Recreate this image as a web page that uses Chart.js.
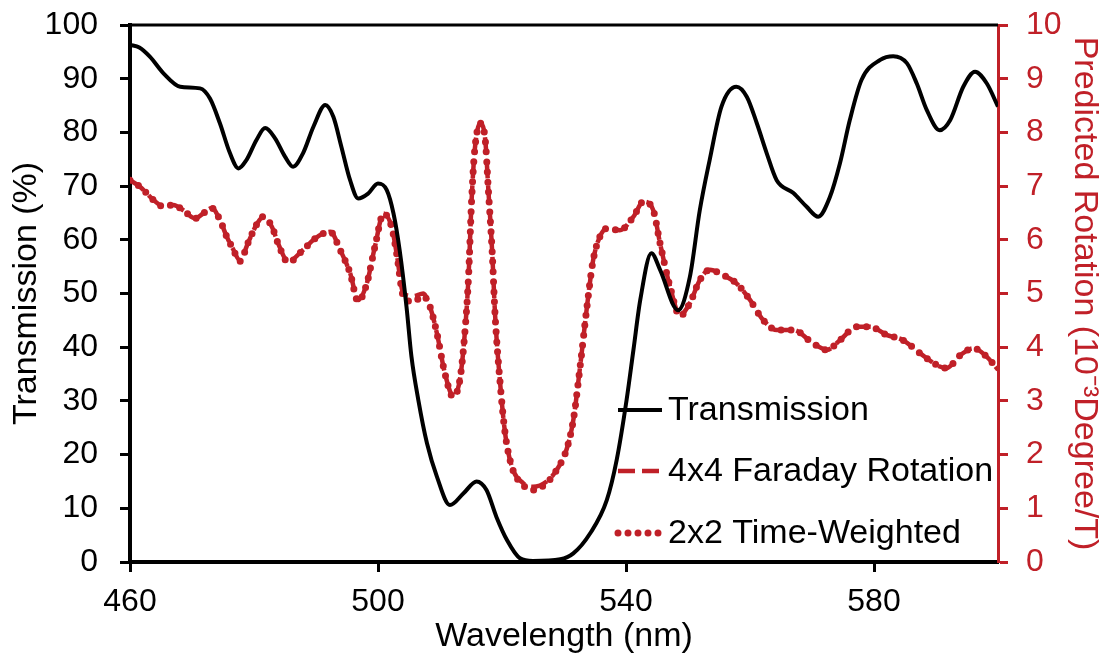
<!DOCTYPE html>
<html>
<head>
<meta charset="utf-8">
<script src="https://cdn.jsdelivr.net/npm/chart.js@4"></script>
<style>
  html, body { margin: 0; padding: 0; background: #fff; }
  #wrap { width: 1107px; height: 669px; }
</style>
</head>
<body>
<div id="wrap"><canvas id="myChart" width="1107" height="669"></canvas></div>
<script>
// wavelength (nm) and transmission (%)
const transWl = [460, 461.5, 463.2, 465.4, 468.1, 471.3, 472.9, 474.5, 476.1, 477.5, 478.8, 480.4, 481.8, 483.4, 485.0, 486.3, 487.9, 489.6, 491.5, 492.8, 494.1, 495.5, 496.8, 498.4, 500.0, 501.4, 502.5, 503.5, 504.6, 505.4, 506.5, 507.9, 509.5, 511.6, 513.8, 515.9, 517.5, 519.1, 520.8, 522.9, 525.0, 529.4, 531.5, 534.2, 536.9, 538.5, 540.1, 541.2, 542.3, 544.1, 545.5, 548.4, 550.3, 551.9, 553.5, 555.4, 557.8, 559.5, 561.1, 562.7, 564.3, 567.0, 569.1, 571.0, 572.9, 574.5, 576.1, 578.0, 581.0, 583.1, 585.3, 586.9, 588.5, 590.6, 592.3, 594.4, 596.3, 598.2, 600];
const transPct = [96.3, 95.8, 94.1, 91.0, 88.5, 88.2, 86.3, 81.7, 76.2, 73.3, 74.9, 78.6, 80.8, 78.9, 75.5, 73.6, 76.1, 81.1, 85.1, 82.9, 77.3, 71.1, 67.7, 68.6, 70.5, 69.3, 64.9, 58.0, 47.5, 38.2, 30.2, 22.1, 15.9, 10.6, 12.8, 15.0, 13.4, 8.4, 4.1, 0.7, 0.2, 0.5, 1.6, 5.3, 11.5, 19.0, 30.2, 39.5, 48.8, 57.5, 54.4, 46.9, 53.1, 65.5, 74.9, 84.8, 88.5, 86.6, 81.7, 76.1, 71.1, 68.7, 66.2, 64.3, 68.0, 74.2, 82.3, 89.8, 93.5, 94.2, 92.9, 89.1, 84.2, 80.4, 82.3, 88.5, 91.3, 89.1, 84.8];

// wavelength (nm) and predicted rotation (10^-3 degree/T)
const rotWl = [460, 461.6, 463.8, 465.4, 467.0, 468.6, 470.5, 471.8, 473.2, 474.5, 475.6, 476.7, 477.7, 479.1, 480.4, 481.5, 482.9, 483.9, 485.5, 487.9, 489.6, 491.2, 492.3, 493.9, 495.5, 496.8, 498.2, 499.5, 500.9, 502.2, 503.0, 504.1, 505.7, 507.3, 508.4, 509.5, 510.8, 512.1, 513.2, 514.0, 514.6, 515.1, 515.6, 516.5, 517.3, 517.8, 518.4, 518.9, 519.7, 520.5, 521.6, 523.4, 525.0, 527.2, 528.8, 530.4, 531.5, 532.6, 533.7, 534.7, 535.8, 536.9, 539.0, 541.2, 542.8, 544.4, 545.5, 547.1, 548.7, 550.3, 551.9, 553.5, 555.7, 557.8, 560.0, 562.1, 564.3, 567.0, 570.2, 572.4, 574.5, 577.2, 579.4, 582.0, 584.7, 587.4, 590.6, 591.7, 593.9, 596.0, 598.2, 600];
const faraday4x4 = [7.11, 6.99, 6.74, 6.62, 6.65, 6.55, 6.40, 6.49, 6.59, 6.37, 6.06, 5.81, 5.62, 5.96, 6.28, 6.43, 6.24, 5.93, 5.60, 5.81, 6.00, 6.12, 6.15, 5.81, 5.38, 4.88, 5.19, 5.87, 6.49, 6.24, 5.75, 5.00, 4.95, 5.00, 4.75, 4.26, 3.51, 3.10, 3.39, 4.26, 5.31, 6.74, 7.67, 8.17, 7.86, 6.93, 5.81, 4.57, 3.33, 2.40, 1.77, 1.47, 1.40, 1.50, 1.71, 2.09, 2.64, 3.64, 4.75, 5.62, 6.06, 6.21, 6.18, 6.43, 6.71, 6.55, 5.93, 5.13, 4.60, 4.82, 5.25, 5.44, 5.34, 5.19, 4.88, 4.51, 4.32, 4.32, 4.07, 3.95, 4.13, 4.38, 4.38, 4.23, 4.13, 3.89, 3.64, 3.61, 3.85, 3.98, 3.82, 3.58];
const timeWeighted2x2 = [7.11, 6.99, 6.74, 6.62, 6.65, 6.55, 6.40, 6.49, 6.59, 6.37, 6.06, 5.81, 5.60, 5.96, 6.28, 6.43, 6.24, 5.93, 5.58, 5.81, 6.00, 6.12, 6.15, 5.81, 5.38, 4.85, 5.19, 5.87, 6.49, 6.24, 5.75, 4.95, 4.85, 4.95, 4.75, 4.26, 3.51, 3.08, 3.39, 4.26, 5.31, 6.74, 7.67, 8.17, 7.86, 6.93, 5.81, 4.57, 3.33, 2.40, 1.77, 1.43, 1.34, 1.47, 1.71, 2.09, 2.64, 3.64, 4.75, 5.62, 6.06, 6.21, 6.18, 6.43, 6.71, 6.55, 5.93, 5.13, 4.58, 4.82, 5.25, 5.44, 5.34, 5.19, 4.88, 4.51, 4.32, 4.32, 4.07, 3.95, 4.13, 4.38, 4.38, 4.23, 4.13, 3.89, 3.64, 3.61, 3.85, 3.98, 3.82, 3.58];

const xTicks = [460, 500, 540, 580];
const seriesNames = ['Transmission', '4x4 Faraday Rotation', '2x2 Time-Weighted'];

const RED = 'rgb(192,32,40)';
const FONT = "'Liberation Sans', Arial, sans-serif";

const toPoints = (xs, ys) => xs.map((x, i) => ({x: x, y: ys[i]}));

// no extra label overhang padding, so the plot box lands where the original has it
function noOverhang(s) {
    s.paddingTop = 0;
    s.paddingBottom = 0;
    s.paddingLeft = 0;
    s.paddingRight = 0;
}

// legend drawn inside the plot, like the original
const legendPlugin = {
    id: 'insideLegend',
    afterDatasetsDraw(chart) {
        const ctx = chart.ctx;
        const a = chart.chartArea;
        const x0 = a.left + 488, x1 = a.left + 532;
        const rows = [a.top + 385, a.top + 446, a.top + 508];
        ctx.save();
        // top border of plot area
        ctx.strokeStyle = '#000';
        ctx.lineWidth = 3;
        ctx.beginPath();
        ctx.moveTo(a.left, a.top);
        ctx.lineTo(a.right, a.top);
        ctx.stroke();

        chart.data.datasets.forEach((ds, i) => {
            const y = rows[i];
            ctx.beginPath();
            ctx.strokeStyle = ds.borderColor;
            ctx.lineWidth = ds.borderWidth;
            ctx.lineCap = ds.borderCapStyle || 'butt';
            ctx.setLineDash(ds.borderDash || []);
            ctx.moveTo(x0, y);
            ctx.lineTo(x1, y);
            ctx.stroke();
            ctx.setLineDash([]);
            ctx.fillStyle = '#000';
            ctx.font = '34px ' + FONT;
            ctx.textAlign = 'left';
            ctx.textBaseline = 'middle';
            ctx.fillText(ds.label, x1 + 6, y + 1);
        });
        ctx.restore();
    }
};

const ctx = document.getElementById('myChart');
const myChart = new Chart(ctx, {
    type: 'line',
    data: {
        datasets: [{
            label: seriesNames[0],
            data: toPoints(transWl, transPct),
            yAxisID: 'y',
            borderColor: '#000',
            borderWidth: 4,
            pointRadius: 0,
            cubicInterpolationMode: 'monotone'
        }, {
            label: seriesNames[1],
            data: toPoints(rotWl, faraday4x4),
            yAxisID: 'y2',
            borderColor: RED,
            borderWidth: 4.5,
            borderDash: [17, 7],
            pointRadius: 0,
            cubicInterpolationMode: 'monotone'
        }, {
            label: seriesNames[2],
            data: toPoints(rotWl, timeWeighted2x2),
            yAxisID: 'y2',
            borderColor: RED,
            borderWidth: 7,
            borderDash: [0, 10],
            borderCapStyle: 'round',
            pointRadius: 0,
            cubicInterpolationMode: 'monotone'
        }]
    },
    options: {
        responsive: false,
        animation: false,
        layout: { padding: { top: 25, left: 0, right: 0, bottom: 0 } },
        plugins: {
            legend: { display: false },
            tooltip: { enabled: false }
        },
        scales: {
            x: {
                type: 'linear',
                position: 'bottom',
                min: 460,
                max: 600,
                afterBuildTicks: s => { s.ticks = xTicks.map(v => ({value: v})); },
                afterFit: s => { s.height = 107; noOverhang(s); },
                grid: { drawOnChartArea: false, drawTicks: true, tickLength: 10, tickWidth: 3, tickColor: '#000' },
                border: { color: '#000', width: 4 },
                ticks: { color: '#000', font: { family: FONT, size: 32 }, padding: 11, maxRotation: 0 },
                title: { display: true, text: 'Wavelength (nm)', color: '#000',
                         font: { family: FONT, size: 34 }, padding: { top: 0, bottom: 12 } }
            },
            y: {
                position: 'left',
                min: 0,
                max: 100,
                afterFit: s => { s.width = 130; noOverhang(s); },
                grid: { drawOnChartArea: false, drawTicks: true, tickLength: 10, tickWidth: 3, tickColor: '#000' },
                border: { color: '#000', width: 4 },
                ticks: { stepSize: 10, color: '#000', font: { family: FONT, size: 32 }, padding: 22 },
                title: { display: true, text: 'Transmission (%)', color: '#000',
                         font: { family: FONT, size: 34 }, padding: { top: 6, bottom: 0 } }
            },
            y2: {
                position: 'right',
                min: 0,
                max: 10,
                afterFit: s => { s.width = 109; noOverhang(s); },
                grid: { drawOnChartArea: false, drawTicks: true, tickLength: 10, tickWidth: 3, tickColor: RED },
                border: { color: RED, width: 3 },
                ticks: { stepSize: 1, color: RED, font: { family: FONT, size: 32 }, padding: 18 },
                title: { display: true, text: 'Predicted Rotation (10\u207B\u00B3Degree/T)', color: RED,
                         font: { family: FONT, size: 34 }, padding: { top: 2, bottom: 0 } }
            }
        }
    },
    plugins: [legendPlugin]
});
</script>
</body>
</html>
